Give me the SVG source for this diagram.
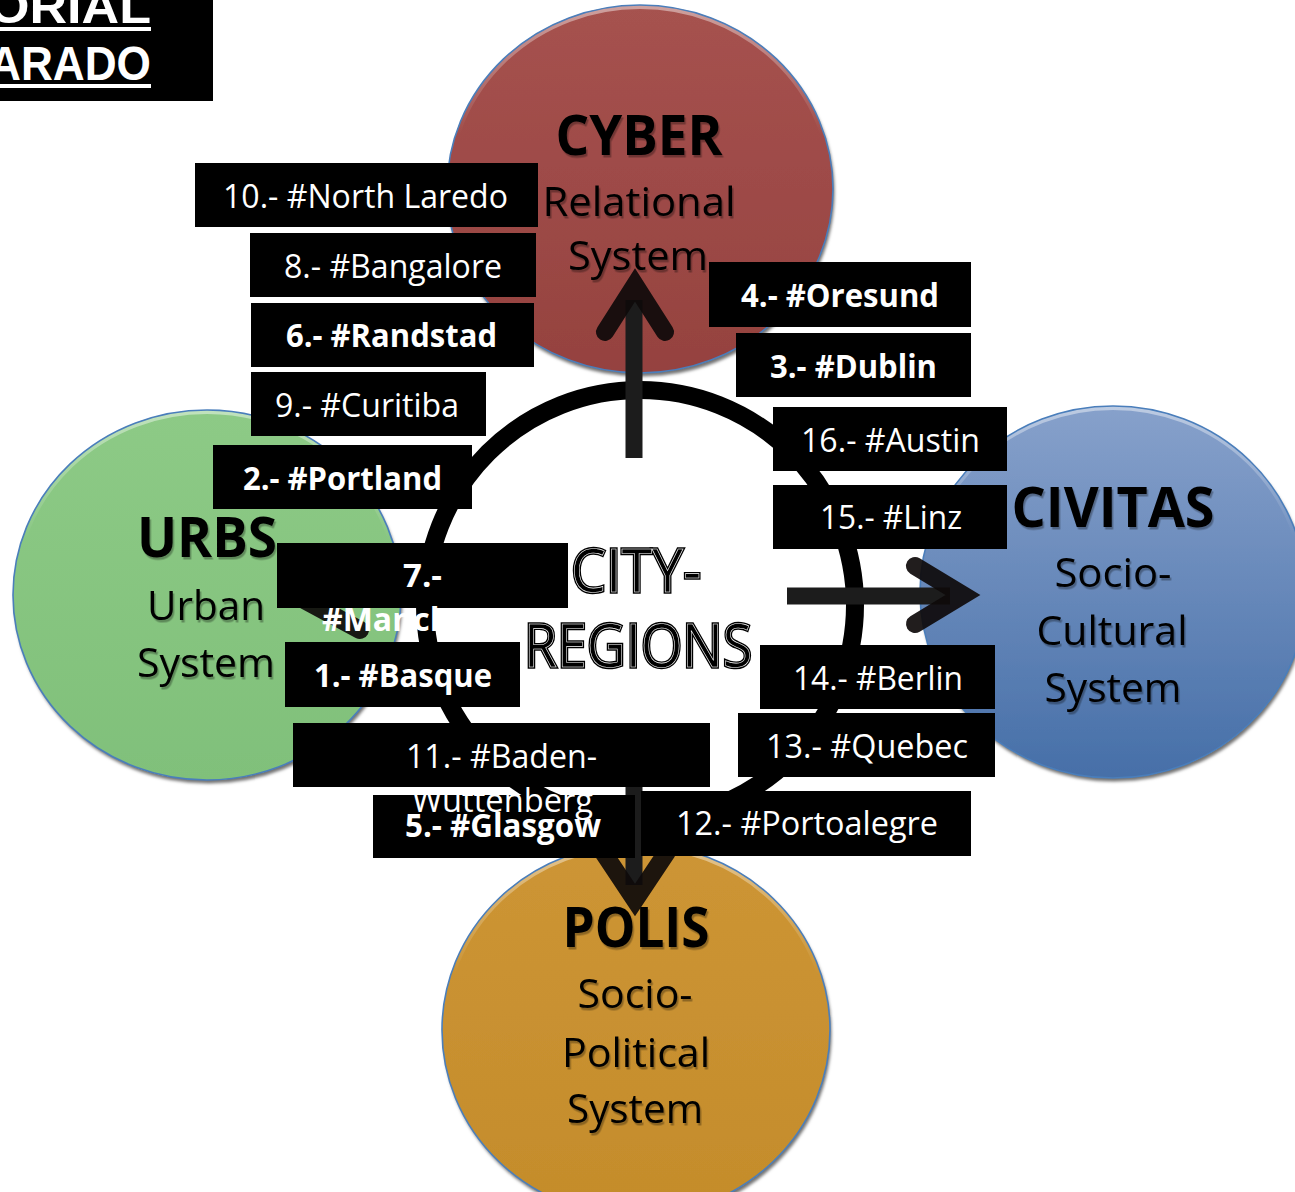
<svg xmlns="http://www.w3.org/2000/svg" width="1295" height="1192" viewBox="0 0 1295 1192">
<defs>
<style>
.lbl{fill:#000}
.lt{fill:#fff;font-family:"Open Sans","Noto Sans",sans-serif;font-size:32px}
.b{font-weight:bold}
.ct{fill:#000;font-family:"Open Sans","Noto Sans",sans-serif;font-size:41px;text-anchor:middle;filter:url(#tsh)}
.ch{font-weight:bold;font-size:56px}
.rim{fill:none;stroke:#4a7ebb;stroke-width:1.6}
.shaft{stroke:#1c1c1c;stroke-width:17;fill:none}
.head{stroke:#0e0a0a;stroke-opacity:0.92;stroke-width:18;fill:none;stroke-linecap:round;stroke-linejoin:miter}
.cr{font-family:"Open Sans","Noto Sans",sans-serif;font-size:60px;text-anchor:middle}
</style>
<filter id="csh" x="-10%" y="-10%" width="130%" height="130%">
<feDropShadow dx="1.5" dy="3.5" stdDeviation="1.5" flood-color="#000" flood-opacity="0.55"/>
</filter>
<filter id="tsh" x="-10%" y="-10%" width="130%" height="140%">
<feDropShadow dx="1.5" dy="2.5" stdDeviation="0.7" flood-color="#000" flood-opacity="0.3"/>
</filter>
<linearGradient id="gRed" x1="0" y1="0" x2="0" y2="1"><stop offset="0" stop-color="#a6524f"/><stop offset="1" stop-color="#95423f"/></linearGradient>
<linearGradient id="gGreen" x1="0" y1="0" x2="0" y2="1"><stop offset="0" stop-color="#8dca86"/><stop offset="1" stop-color="#80c07a"/></linearGradient>
<linearGradient id="gBlue" x1="0" y1="0" x2="0" y2="1"><stop offset="0" stop-color="#87a1cb"/><stop offset="1" stop-color="#466fa8"/></linearGradient>
<linearGradient id="gGold" x1="0" y1="0" x2="0" y2="1"><stop offset="0" stop-color="#cd9535"/><stop offset="1" stop-color="#c48c2b"/></linearGradient>
<linearGradient id="hl" x1="0" y1="0" x2="0" y2="1"><stop offset="0" stop-color="#fff" stop-opacity="0.45"/><stop offset="0.35" stop-color="#fff" stop-opacity="0"/></linearGradient>
</defs>
<rect width="1295" height="1192" fill="#fff"/>

<g id="title-box">
<rect x="0" y="0" width="213" height="101" fill="#000"/>
<text x="151" y="23" fill="#fff" font-family="'Liberation Sans',Arial,sans-serif" font-weight="bold" font-size="49" text-anchor="end" textLength="162" lengthAdjust="spacingAndGlyphs">ORIAL</text>
<rect x="0" y="27" width="151" height="4" fill="#fff"/>
<text x="151" y="80" fill="#fff" font-family="'Liberation Sans',Arial,sans-serif" font-weight="bold" font-size="49" text-anchor="end" textLength="162" lengthAdjust="spacingAndGlyphs">ARADO</text>
<rect x="0" y="84" width="151" height="4" fill="#fff"/>
</g>

<g id="cyber">
<ellipse cx="640" cy="189" rx="193" ry="184" fill="url(#gRed)" filter="url(#csh)"/>
<ellipse cx="640" cy="189" rx="191" ry="182" fill="none" stroke="url(#hl)" stroke-width="4"/>
<ellipse class="rim" cx="640" cy="189" rx="193" ry="184"/>
<text class="ct ch" x="639" y="155" textLength="167" lengthAdjust="spacingAndGlyphs">CYBER</text>
<text class="ct" x="639" y="216" textLength="193" lengthAdjust="spacingAndGlyphs">Relational</text>
<text class="ct" x="638" y="270" textLength="140" lengthAdjust="spacingAndGlyphs">System</text>
</g>

<g id="urbs">
<ellipse cx="207" cy="595" rx="194" ry="185" fill="url(#gGreen)" filter="url(#csh)"/>
<ellipse cx="207" cy="595" rx="192" ry="183" fill="none" stroke="url(#hl)" stroke-width="4"/>
<ellipse class="rim" cx="207" cy="595" rx="194" ry="185"/>
<text class="ct ch" x="207" y="557" textLength="140" lengthAdjust="spacingAndGlyphs">URBS</text>
<text class="ct" x="206" y="620" textLength="118" lengthAdjust="spacingAndGlyphs">Urban</text>
<text class="ct" x="206" y="677" textLength="138" lengthAdjust="spacingAndGlyphs">System</text>
</g>

<g id="civitas">
<ellipse cx="1113" cy="592" rx="193" ry="186" fill="url(#gBlue)" filter="url(#csh)"/>
<ellipse cx="1113" cy="592" rx="191" ry="184" fill="none" stroke="url(#hl)" stroke-width="4"/>
<ellipse class="rim" cx="1113" cy="592" rx="193" ry="186"/>
<text class="ct ch" x="1113" y="527" textLength="203" lengthAdjust="spacingAndGlyphs">CIVITAS</text>
<text class="ct" x="1113" y="587" textLength="117" lengthAdjust="spacingAndGlyphs">Socio-</text>
<text class="ct" x="1112" y="645" textLength="151" lengthAdjust="spacingAndGlyphs">Cultural</text>
<text class="ct" x="1113" y="702" textLength="137" lengthAdjust="spacingAndGlyphs">System</text>
</g>

<g id="polis">
<ellipse cx="636" cy="1030" rx="194" ry="186" fill="url(#gGold)" filter="url(#csh)"/>
<ellipse cx="636" cy="1030" rx="192" ry="184" fill="none" stroke="url(#hl)" stroke-width="4"/>
<ellipse class="rim" cx="636" cy="1030" rx="194" ry="186"/>
<text class="ct ch" x="636" y="947" textLength="147" lengthAdjust="spacingAndGlyphs">POLIS</text>
<text class="ct" x="635" y="1008" textLength="115" lengthAdjust="spacingAndGlyphs">Socio-</text>
<text class="ct" x="636" y="1067" textLength="148" lengthAdjust="spacingAndGlyphs">Political</text>
<text class="ct" x="635" y="1123" textLength="136" lengthAdjust="spacingAndGlyphs">System</text>
</g>

<g id="city-regions">
<circle cx="640" cy="605" r="215" fill="#fff" stroke="#000" stroke-width="18"/>
<text class="cr" x="636" y="592" fill="#000" stroke="#000" stroke-width="3.5" textLength="130" lengthAdjust="spacingAndGlyphs">CITY-</text>
<text class="cr" x="636" y="592" fill="#000" stroke="#fff" stroke-width="0.6" textLength="130" lengthAdjust="spacingAndGlyphs">CITY-</text>
<text class="cr" x="638" y="667" fill="#000" stroke="#000" stroke-width="3.5" textLength="228" lengthAdjust="spacingAndGlyphs">REGIONS</text>
<text class="cr" x="638" y="667" fill="#000" stroke="#fff" stroke-width="0.6" textLength="228" lengthAdjust="spacingAndGlyphs">REGIONS</text>
</g>

<g id="connectors">
<line class="shaft" x1="634" y1="458" x2="634" y2="300"/>
<polyline class="head" points="605,332 635,285 665,332"/>
<line class="shaft" x1="787" y1="596" x2="950" y2="596"/>
<polyline class="head" points="915,566 963,595 915,624"/>
<line class="shaft" x1="634" y1="735" x2="634" y2="885"/>
<polyline class="head" points="603,852 635,900 667,852"/>
<line class="shaft" x1="493" y1="596" x2="310" y2="596"/>
<polyline class="head" points="360,563 297,596 360,630"/>
</g>

<g id="label-10"><rect class="lbl" x="195" y="163" width="343" height="64"/><text class="lt" x="223" y="208" textLength="285" lengthAdjust="spacingAndGlyphs">10.- #North Laredo</text></g>
<g id="label-8"><rect class="lbl" x="250" y="233" width="286" height="64"/><text class="lt" x="284" y="278" textLength="218" lengthAdjust="spacingAndGlyphs">8.- #Bangalore</text></g>
<g id="label-6"><rect class="lbl" x="251" y="303" width="283" height="64"/><text class="lt b" x="286" y="347" textLength="211" lengthAdjust="spacingAndGlyphs">6.- #Randstad</text></g>
<g id="label-9"><rect class="lbl" x="251" y="372" width="235" height="64"/><text class="lt" x="275" y="417" textLength="184" lengthAdjust="spacingAndGlyphs">9.- #Curitiba</text></g>
<g id="label-2"><rect class="lbl" x="213" y="445" width="259" height="64"/><text class="lt b" x="243" y="490" textLength="199" lengthAdjust="spacingAndGlyphs">2.- #Portland</text></g>
<g id="label-7"><rect class="lbl" x="277" y="543" width="291" height="65"/><text class="lt b" x="403" y="587" textLength="39" lengthAdjust="spacingAndGlyphs">7.-</text><text class="lt b" x="322" y="631">#Manchester</text></g>
<g id="label-1"><rect class="lbl" x="285" y="642" width="235" height="65"/><text class="lt b" x="314" y="687" textLength="178" lengthAdjust="spacingAndGlyphs">1.- #Basque</text></g>
<g id="label-5"><rect class="lbl" x="373" y="795" width="262" height="63"/><text class="lt b" x="405" y="837" textLength="196" lengthAdjust="spacingAndGlyphs">5.- #Glasgow</text></g>
<g id="label-11"><rect class="lbl" x="293" y="723" width="417" height="64"/><text class="lt" x="406" y="768" textLength="191" lengthAdjust="spacingAndGlyphs">11.- #Baden-</text><text class="lt" x="412" y="812" textLength="181" lengthAdjust="spacingAndGlyphs">Wuttenberg</text></g>
<g id="label-12"><rect class="lbl" x="641" y="791" width="330" height="65"/><text class="lt" x="676" y="835" textLength="262" lengthAdjust="spacingAndGlyphs">12.- #Portoalegre</text></g>
<g id="label-4"><rect class="lbl" x="709" y="262" width="262" height="65"/><text class="lt b" x="741" y="307" textLength="198" lengthAdjust="spacingAndGlyphs">4.- #Oresund</text></g>
<g id="label-3"><rect class="lbl" x="736" y="333" width="235" height="64"/><text class="lt b" x="770" y="378" textLength="167" lengthAdjust="spacingAndGlyphs">3.- #Dublin</text></g>
<g id="label-16"><rect class="lbl" x="773" y="407" width="234" height="64"/><text class="lt" x="801" y="452" textLength="179" lengthAdjust="spacingAndGlyphs">16.- #Austin</text></g>
<g id="label-15"><rect class="lbl" x="773" y="485" width="234" height="64"/><text class="lt" x="820" y="529" textLength="142" lengthAdjust="spacingAndGlyphs">15.- #Linz</text></g>
<g id="label-14"><rect class="lbl" x="760" y="645" width="235" height="64"/><text class="lt" x="793" y="690" textLength="170" lengthAdjust="spacingAndGlyphs">14.- #Berlin</text></g>
<g id="label-13"><rect class="lbl" x="738" y="713" width="257" height="64"/><text class="lt" x="766" y="758" textLength="202" lengthAdjust="spacingAndGlyphs">13.- #Quebec</text></g>
</svg>
